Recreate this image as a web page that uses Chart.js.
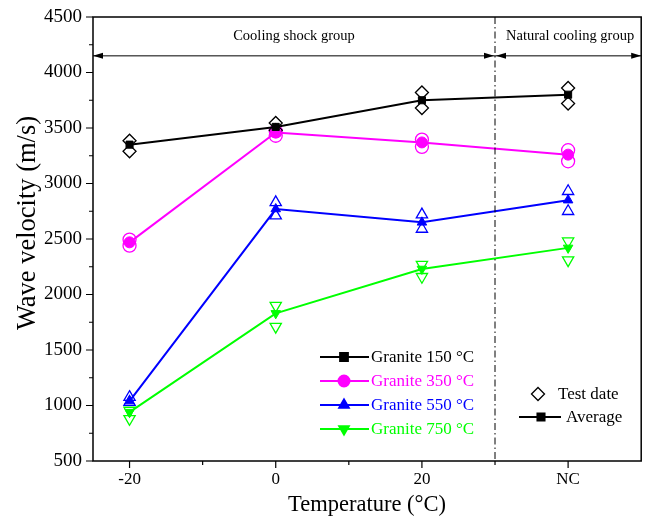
<!DOCTYPE html>
<html>
<head>
<meta charset="utf-8">
<script src="https://cdn.jsdelivr.net/npm/chart.js@4.4.0/dist/chart.umd.min.js"></script>
<style>
  html, body { margin: 0; padding: 0; background: #fff; overflow: hidden; }
  #wrap { width: 649px; height: 521px; }
  canvas { display: block; }
</style>
</head>
<body>
<div id="wrap"><canvas id="chart" width="649" height="521"></canvas></div>
<script>
const temps = [-20, 0, 20, 40];
const tickNames = { '-20': '-20', '0': '0', '20': '20', '40': 'NC' };

const avg150 = [3350, 3510, 3750, 3800];
const avg350 = [2470, 3460, 3370, 3260];
const avg550 = [1040, 2770, 2650, 2850];
const avg750 = [940, 1830, 2230, 2420];

// two test readings per condition
const test150a = [3385, 3545, 3820, 3860];
const test150b = [3290, 3480, 3680, 3720];
const test350a = [2495, 3470, 3395, 3300];
const test350b = [2440, 3430, 3330, 3200];
const test550a = [1075, 2830, 2720, 2930];
const test550b = [1030, 2710, 2590, 2750];
const test750a = [955, 1900, 2270, 2480];
const test750b = [880, 1710, 2160, 2310];

const groupSplit = 30;
const arrowLevel = 4150;

const serif = '"Liberation Serif", "DejaVu Serif", serif';

function pts(vals) {
    return temps.map((t, i) => ({ x: t, y: vals[i] }));
}
function testPts(a, b) {
    return pts(a).concat(pts(b));
}

function avgSet(label, vals, color, style, rotation) {
    return {
        label, data: pts(vals), showLine: true,
        borderColor: color, backgroundColor: color, borderWidth: 2,
        pointStyle: style, pointRotation: rotation || 0,
        pointRadius: style === 'rect' ? 5 : 5.5, pointBorderWidth: 1,
        order: 0
    };
}
function testSet(label, a, b, color, style, rotation) {
    return {
        label, data: testPts(a, b), showLine: false,
        borderColor: color, backgroundColor: 'rgba(0,0,0,0)',
        pointStyle: style, pointRotation: rotation || 0,
        pointRadius: 6.5, pointBorderWidth: 1.3,
        order: 1
    };
}

const frameAndTicks = {
    id: 'frameAndTicks',
    afterDraw(chart) {
        const { ctx, chartArea: a, scales: { x, y } } = chart;
        ctx.save();
        ctx.strokeStyle = '#000';
        ctx.lineWidth = 1.5;
        ctx.strokeRect(a.left, a.top, a.right - a.left, a.bottom - a.top);
        ctx.lineWidth = 1.2;
        ctx.beginPath();
        for (let v = -20; v <= 40; v += 10) {
            const px = x.getPixelForValue(v);
            const len = v % 20 === 0 ? 7 : 4;
            ctx.moveTo(px, a.bottom);
            ctx.lineTo(px, a.bottom + len);
        }
        for (let v = 500; v <= 4500; v += 250) {
            const py = y.getPixelForValue(v);
            const len = v % 500 === 0 ? 7 : 4;
            ctx.moveTo(a.left, py);
            ctx.lineTo(a.left - len, py);
        }
        ctx.stroke();

        // y axis title
        ctx.save();
        ctx.translate(28, 223);
        ctx.rotate(-Math.PI / 2);
        ctx.fillStyle = '#000';
        ctx.font = '26.5px ' + serif;
        ctx.textAlign = 'center';
        ctx.textBaseline = 'middle';
        ctx.fillText('Wave velocity (m/s)', 0, 0);
        ctx.restore();

        // group divider
        const sx = x.getPixelForValue(groupSplit);
        ctx.lineWidth = 1;
        ctx.setLineDash([7, 3, 1.5, 3]);
        ctx.beginPath();
        ctx.moveTo(sx, a.top);
        ctx.lineTo(sx, a.bottom);
        ctx.stroke();
        ctx.setLineDash([]);

        // double arrows
        const ay = y.getPixelForValue(arrowLevel);
        const head = (px, dir) => {
            ctx.beginPath();
            ctx.moveTo(px, ay);
            ctx.lineTo(px - dir * 10, ay - 3);
            ctx.lineTo(px - dir * 10, ay + 3);
            ctx.closePath();
            ctx.fill();
        };
        ctx.fillStyle = '#000';
        ctx.lineWidth = 1;
        ctx.beginPath();
        ctx.moveTo(a.left, ay); ctx.lineTo(sx, ay);
        ctx.moveTo(sx, ay); ctx.lineTo(a.right, ay);
        ctx.stroke();
        head(a.left, -1); head(sx - 1, 1); head(sx + 1, -1); head(a.right, 1);

        ctx.font = '14.5px ' + serif;
        ctx.textAlign = 'center';
        ctx.textBaseline = 'middle';
        ctx.fillText('Cooling shock group', (a.left + sx) / 2, a.top + 19);
        ctx.fillText('Natural cooling group', (sx + a.right) / 2 + 2, a.top + 19);

        // series legend
        const rows = [
            ['Granite 150 \u00b0C', '#000000', 'rect', 0],
            ['Granite 350 \u00b0C', '#ff00ff', 'circle', 0],
            ['Granite 550 \u00b0C', '#0000ff', 'triangle', 0],
            ['Granite 750 \u00b0C', '#00ff00', 'triangle', 180]
        ];
        ctx.font = '17px ' + serif;
        ctx.textAlign = 'left';
        rows.forEach((r, i) => {
            const ly = 357 + i * 24;
            ctx.strokeStyle = r[1];
            ctx.fillStyle = r[1];
            ctx.lineWidth = 2;
            ctx.beginPath();
            ctx.moveTo(320, ly); ctx.lineTo(369, ly);
            ctx.stroke();
            Chart.helpers.drawPoint(ctx, { pointStyle: r[2], rotation: r[3], radius: 5.5, borderWidth: 1 }, 344, ly);
            ctx.fillText(r[0], 371, ly + 1);
        });

        // marker legend
        ctx.strokeStyle = '#000';
        ctx.fillStyle = '#fff';
        ctx.lineWidth = 1.3;
        Chart.helpers.drawPoint(ctx, { pointStyle: 'rectRot', rotation: 0, radius: 6.5, borderWidth: 1.3 }, 538, 394);
        ctx.fillStyle = '#000';
        ctx.fillText('Test date', 558, 395);
        ctx.lineWidth = 2;
        ctx.beginPath();
        ctx.moveTo(519, 417); ctx.lineTo(561, 417);
        ctx.stroke();
        Chart.helpers.drawPoint(ctx, { pointStyle: 'rect', rotation: 0, radius: 5, borderWidth: 1 }, 541, 417);
        ctx.fillText('Average', 566, 418);
        ctx.restore();
    }
};

new Chart(document.getElementById('chart'), {
    type: 'scatter',
    data: {
        datasets: [
            testSet('Test 150', test150a, test150b, '#000000', 'rectRot'),
            testSet('Test 350', test350a, test350b, '#ff00ff', 'circle'),
            testSet('Test 550', test550a, test550b, '#0000ff', 'triangle'),
            testSet('Test 750', test750a, test750b, '#00ff00', 'triangle', 180),
            avgSet('Granite 150 \u00b0C', avg150, '#000000', 'rect'),
            avgSet('Granite 350 \u00b0C', avg350, '#ff00ff', 'circle'),
            avgSet('Granite 550 \u00b0C', avg550, '#0000ff', 'triangle'),
            avgSet('Granite 750 \u00b0C', avg750, '#00ff00', 'triangle', 180)
        ]
    },
    options: {
        responsive: false,
        animation: false,
        layout: { padding: { top: 17, right: -0.8, left: 0, bottom: 0 } },
        plugins: { legend: { display: false }, tooltip: { enabled: false } },
        scales: {
            x: {
                type: 'linear', min: -25, max: 50,
                afterBuildTicks: s => { s.ticks = temps.map(v => ({ value: v })); },
                afterFit: s => { s.height = 60; s.paddingLeft = 0; s.paddingRight = 0; },
                grid: { display: false },
                border: { display: false },
                ticks: {
                    color: '#000', font: { family: serif, size: 17 }, padding: 0,
                    callback: v => tickNames[String(v)] || ''
                },
                title: {
                    display: true, text: 'Temperature (\u00b0C)', color: '#000',
                    font: { family: serif, size: 22.5 }, padding: { top: 0, bottom: 2 }
                }
            },
            y: {
                min: 500, max: 4500,
                afterFit: s => { s.width = 93; s.paddingTop = 0; s.paddingBottom = 0; },
                grid: { display: false },
                border: { display: false },
                ticks: {
                    stepSize: 500, color: '#000', font: { family: serif, size: 19 }, padding: 3,
                    callback: v => String(v)
                },
                title: { display: false }
            }
        }
    },
    plugins: [frameAndTicks]
});
</script>
</body>
</html>
